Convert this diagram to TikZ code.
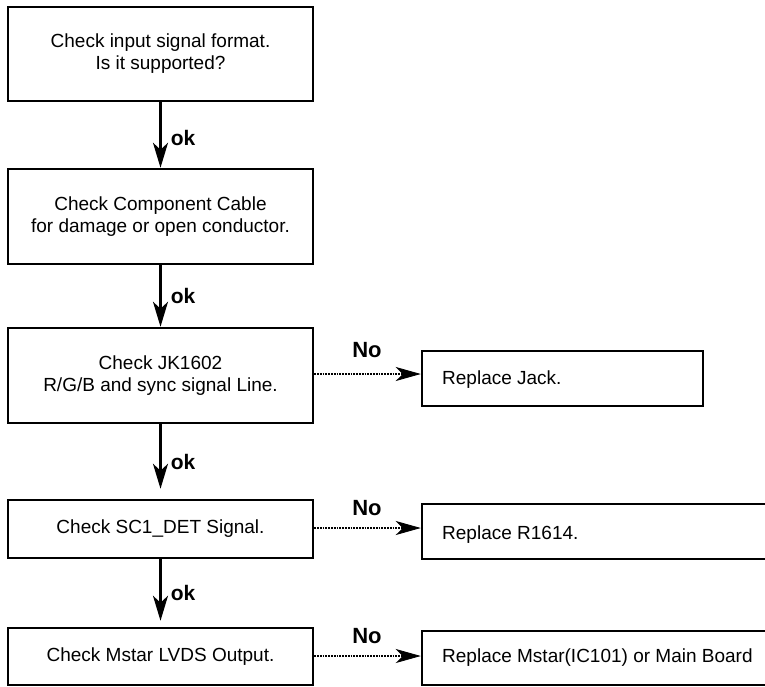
\documentclass[tikz,border=0pt]{standalone}
\usepackage{fontspec}
\setmainfont{Liberation Sans}
\usetikzlibrary{arrows.meta}
\begin{document}
\begin{tikzpicture}[x=1pt,y=-1pt,
  box/.style={draw,line width=2.5pt,minimum width=305pt,align=center,font=\fontsize{19}{22}\selectfont,inner sep=0pt},
  rbox/.style={draw,line width=2.5pt,inner sep=0pt},
  rtext/.style={anchor=west,font=\fontsize{19}{22}\selectfont,inner sep=0pt},
  okarr/.style={line width=2.6pt,-{Stealth[length=25pt,width=15pt,inset=7pt]}},
  noarr/.style={line width=2.8pt,dash pattern=on 1.8pt off 1.0pt,-{Stealth[length=25pt,width=14pt,inset=7pt,line width=0.8pt]}},
  oklab/.style={font=\fontsize{21}{21}\selectfont\bfseries,anchor=west,inner sep=0pt},
  nolab/.style={font=\fontsize{22}{22}\selectfont\bfseries,inner sep=0pt}]
\useasboundingbox (0,0) rectangle (765,686);
\node[box,minimum height=94pt] (b1) at (160.5,54) {Check input signal format.\\Is it supported?};
\node[box,minimum height=95pt] (b2) at (160.5,216.5) {Check Component Cable\\for damage or open conductor.};
\node[box,minimum height=95pt] (b3) at (160.5,375.5) {Check JK1602\\R/G/B and sync signal Line.};
\node[box,minimum height=58pt] (b4) at (160.5,529) {Check SC1\_DET Signal.};
\node[box,minimum height=57pt] (b5) at (160.5,656.5) {Check Mstar LVDS Output.};
\node[rbox,minimum width=281pt,minimum height=55pt] (r1) at (562.5,378.5) {};
\node[rbox,minimum width=350pt,minimum height=55pt] (r2) at (597,531.5) {};
\node[rbox,minimum width=350pt,minimum height=54pt] (r3) at (597,658) {};
\node[rtext] (t1) at (442,380) {Replace Jack.};
\node[rtext] (t2) at (442,535) {Replace R1614.};
\node[rtext] (t3) at (442,658) {Replace Mstar(IC101) or Main Board};
\draw[okarr] (b1.south) -- (b2.north) node[oklab,pos=0.55,xshift=9pt] (ok1) {ok};
\draw[okarr] (b2.south) -- (b3.north) node[oklab,pos=0.5,xshift=9pt] (ok2) {ok};
\draw[okarr,shorten >=10pt] (b3.south) -- (b4.north) node[oklab,pos=0.5,xshift=9pt] (ok3) {ok};
\draw[okarr,shorten >=6pt] (b4.south) -- (b5.north) node[oklab,pos=0.5,xshift=9pt] (ok4) {ok};
\draw[noarr] ([yshift=1.5pt]b3.east) -- ([yshift=1.5pt]b3.east -| r1.west);
\draw[noarr] ([yshift=1pt]b4.east) -- ([yshift=1pt]b4.east -| r2.west);
\draw[noarr] ([yshift=0.5pt]b5.east) -- ([yshift=0.5pt]b5.east -| r3.west);
\node[nolab] (n1) at (367,350) {No};
\node[nolab] (n2) at (367,508) {No};
\node[nolab] (n3) at (367,636) {No};
\end{tikzpicture}
\end{document}
